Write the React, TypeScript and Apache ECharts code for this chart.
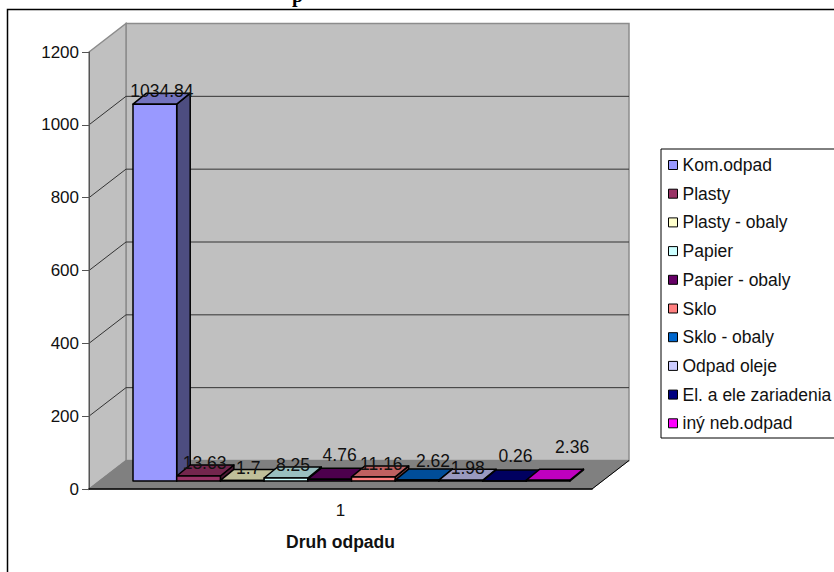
import React, { useEffect, useRef } from "react";
import * as echarts from "echarts";

const categories = ["1"];
const wasteNames = [
  "Kom.odpad",
  "Plasty",
  "Plasty - obaly",
  "Papier",
  "Papier - obaly",
  "Sklo",
  "Sklo - obaly",
  "Odpad oleje",
  "El. a ele zariadenia",
  "iný neb.odpad",
];
const wasteValues = [1034.84, 13.63, 1.7, 8.25, 4.76, 11.16, 2.62, 1.98, 0.26, 2.36];
const wasteColors = [
  "#9999FF",
  "#993366",
  "#FFFFCC",
  "#CCFFFF",
  "#660066",
  "#FF8080",
  "#0066CC",
  "#CCCCFF",
  "#000080",
  "#FF00FF",
];
const yTicks = [0, 200, 400, 600, 800, 1000, 1200];
// Hand placement of each value label relative to its bar's top face.
const labelNudgeX = [7, 6, 6, 7, 10, 8, 16, 7, 11, 24];
const labelNudgeY = [-13, -13, -12, -13, -24, -13, -19, -12, -25, -33];

const FONT = "'Liberation Sans', Arial, sans-serif";
const WALL_DX = 37;
const WALL_DY = 28.5;
const BAR_LIFT = 8;
const BAR_START = 44;
const BAR_WIDTH = 43.7;
const BAR_DX = 13.5;
const BAR_DY = 11;

function shade(hex: string, k: number): string {
  const n = parseInt(hex.slice(1), 16);
  const c = [(n >> 16) & 255, (n >> 8) & 255, n & 255].map((v) => Math.round(v * k));
  return `rgb(${c[0]},${c[1]},${c[2]})`;
}

// Back wall, side wall, floor and their gridlines.
function renderWalls(params: any, api: any) {
  const cs = params.coordSys;
  const left = cs.x;
  const right = cs.x + cs.width;
  const top = api.coord([0, yTicks[yTicks.length - 1]])[1];
  const base = api.coord([0, 0])[1];
  const wallStroke = "#8c8c8c";
  const children: any[] = [
    {
      type: "polygon",
      shape: { points: [[left + WALL_DX, top - WALL_DY], [right + WALL_DX, top - WALL_DY], [right + WALL_DX, base - WALL_DY], [left + WALL_DX, base - WALL_DY]] },
      style: { fill: "#C0C0C0", stroke: wallStroke, lineWidth: 1.5 },
    },
    {
      type: "polygon",
      shape: { points: [[left, top], [left + WALL_DX, top - WALL_DY], [left + WALL_DX, base - WALL_DY], [left, base]] },
      style: { fill: "#C0C0C0", stroke: wallStroke, lineWidth: 1.5 },
    },
    {
      type: "polygon",
      shape: { points: [[left, base], [left + WALL_DX, base - WALL_DY], [right + WALL_DX, base - WALL_DY], [right, base]] },
      style: { fill: "#808080", stroke: "#808080", lineWidth: 1 },
    },
  ];
  yTicks.slice(1, -1).forEach((v) => {
    const y = api.coord([0, v])[1];
    children.push({
      type: "polyline",
      shape: { points: [[left, y], [left + WALL_DX, y - WALL_DY], [right + WALL_DX, y - WALL_DY]] },
      style: { fill: "none", stroke: "#333333", lineWidth: 1 },
    });
  });
  children.push({
    type: "line",
    shape: { x1: right, y1: base, x2: right + WALL_DX, y2: base - WALL_DY },
    style: { stroke: "#000000", lineWidth: 1 },
  });
  return { type: "group", children };
}

function barFrontLeft(params: any, index: number) {
  return params.coordSys.x + BAR_START + BAR_WIDTH * index;
}

// One 3D column: front, top and side faces.
function renderBar(index: number, color: string) {
  return (params: any, api: any) => {
    const x0 = barFrontLeft(params, index);
    const x1 = x0 + BAR_WIDTH;
    const yTop = api.coord([0, api.value(1)])[1] - BAR_LIFT;
    const yBase = api.coord([0, 0])[1] - BAR_LIFT;
    const edge = { stroke: "#000000", lineWidth: 1.5, lineJoin: "round" };
    return {
      type: "group",
      children: [
        {
          type: "polygon",
          shape: { points: [[x1, yTop], [x1 + BAR_DX, yTop - BAR_DY], [x1 + BAR_DX, yBase - BAR_DY], [x1, yBase]] },
          style: { fill: shade(color, 0.5), ...edge },
        },
        {
          type: "polygon",
          shape: { points: [[x0, yTop], [x0 + BAR_DX, yTop - BAR_DY], [x1 + BAR_DX, yTop - BAR_DY], [x1, yTop]] },
          style: { fill: shade(color, 0.75), ...edge },
        },
        {
          type: "polygon",
          shape: { points: [[x0, yTop], [x1, yTop], [x1, yBase], [x0, yBase]] },
          style: { fill: color, ...edge },
        },
      ],
    };
  };
}

function renderValueLabel(params: any, api: any) {
  const index = params.dataIndex;
  const x = barFrontLeft(params, index) + BAR_WIDTH / 2 + labelNudgeX[index];
  const y = api.coord([0, api.value(1)])[1] - BAR_LIFT + labelNudgeY[index];
  return {
    type: "text",
    x,
    y,
    style: {
      text: String(api.value(1)),
      fill: "#111111",
      font: `17.5px ${FONT}`,
      textAlign: "center",
      textVerticalAlign: "middle",
    },
  };
}

export default function App() {
  const ref = useRef<HTMLDivElement>(null);

  useEffect(() => {
    if (!ref.current) return;
    const chart = echarts.init(ref.current, null, { renderer: "svg" });
    chart.setOption({
      animation: false,
      backgroundColor: "#ffffff",
      grid: { left: 89, right: 242, top: 52, bottom: 83 },
      xAxis: {
        type: "category",
        data: categories,
        z: 5,
        axisLine: { lineStyle: { color: "#000000", width: 1.5 } },
        axisTick: { length: 7, lineStyle: { color: "#555555" } },
        axisLabel: { color: "#111111", fontFamily: FONT, fontSize: 17, margin: 13 },
        name: "Druh odpadu",
        nameLocation: "middle",
        nameGap: 44,
        nameTextStyle: { color: "#111111", fontFamily: FONT, fontSize: 17.5, fontWeight: "bold" },
      },
      yAxis: {
        type: "value",
        min: 0,
        max: 1200,
        interval: 200,
        z: 5,
        splitLine: { show: false },
        axisLine: { show: true, lineStyle: { color: "#555555", width: 1 } },
        axisTick: { show: true, length: 7, lineStyle: { color: "#555555" } },
        axisLabel: { color: "#111111", fontFamily: FONT, fontSize: 17, margin: 10, formatter: (v: number) => String(v) },
      },
      legend: {
        data: wasteNames,
        orient: "vertical",
        left: 668,
        top: 156,
        padding: 0,
        itemWidth: 9,
        itemHeight: 9,
        itemGap: 10.7,
        icon: "rect",
        selectedMode: false,
        itemStyle: { borderColor: "#000000", borderWidth: 1 },
        textStyle: { color: "#111111", fontFamily: FONT, fontSize: 17.5, lineHeight: 18 },
      },
      graphic: [
        {
          type: "rect",
          z: -10,
          shape: { x: 7.5, y: 9.5, width: 900, height: 700 },
          style: { fill: "none", stroke: "#000000", lineWidth: 1.5 },
        },
        {
          type: "rect",
          z: 1,
          shape: { x: 661, y: 149, width: 200, height: 289 },
          style: { fill: "#ffffff", stroke: "#000000", lineWidth: 1 },
        },
        {
          type: "text",
          x: 292,
          y: -15,
          style: { text: "p", fill: "#000000", font: "bold 20px 'Liberation Serif', serif" },
        },
      ],
      series: [
        {
          type: "custom",
          name: "walls",
          coordinateSystem: "cartesian2d",
          z: 0,
          silent: true,
          data: [[0, 0]],
          renderItem: renderWalls,
        },
        ...wasteNames.map((name, i) => ({
          type: "custom",
          name,
          coordinateSystem: "cartesian2d",
          z: 2,
          silent: true,
          itemStyle: { color: wasteColors[i] },
          encode: { x: 0, y: 1 },
          data: [[0, wasteValues[i]]],
          renderItem: renderBar(i, wasteColors[i]),
        })),
        {
          type: "custom",
          name: "values",
          coordinateSystem: "cartesian2d",
          z: 3,
          silent: true,
          encode: { x: 0, y: 1 },
          data: wasteValues.map((v) => [0, v]),
          renderItem: renderValueLabel,
        },
      ],
    });
    return () => chart.dispose();
  }, []);

  return <div ref={ref} style={{ position: "fixed", left: 0, top: 0, width: 834, height: 572 }} />;
}
